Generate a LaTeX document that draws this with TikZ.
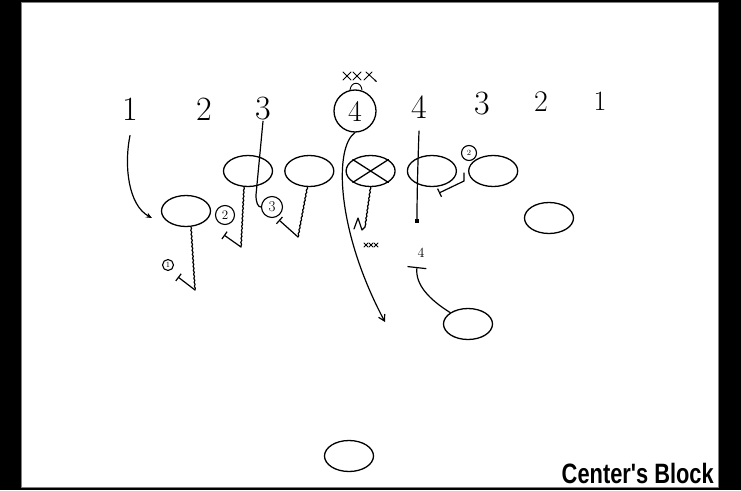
\documentclass[tikz,border=0pt]{standalone}
\usepackage{fontspec}
\usetikzlibrary{shapes.geometric, arrows.meta, positioning, decorations.pathmorphing}
\newfontfamily\captfont{Liberation Sans}
\tikzset{
	player/.style ={ellipse, draw=black, line width=1.3pt, minimum width=49pt, minimum height=31pt, inner sep=0pt},
	holenum/.style={font=\fontsize{34}{34}\selectfont, inner sep=1pt},
	tag/.style    ={circle, draw=black, line width=1.1pt, inner sep=0pt},
	route/.style  ={line width=1.2pt, -{Stealth[length=6pt, width=5pt]}},
	% blocking assignments
	stem/.style   ={line width=1.2pt, decorate, decoration={snake, amplitude=0.45pt, segment length=4pt}},
	blk/.style    ={line width=1.2pt, -{Bar[width=9pt]}},
	scrib/.style  ={line width=0.9pt},
}
\begin{document}
\begin{tikzpicture}[x=1pt, y=-1pt, node distance=11pt, line cap=round, line join=round]
	\fill[black] (0,0) rectangle (741,490);
	\draw[gray, fill=white, line width=1pt] (21,2) rectangle (718,487);
	% hole numbers
	\node[holenum] (n1) at (130,109) {1};
	\node[holenum] (n2) at (204,109) {2};
	\node[holenum] (n3) at (263,108.5) {3};
	\node[circle, draw=black, line width=1.3pt, minimum size=42pt, inner sep=0pt, font=\fontsize{30}{30}\selectfont] (d4) at (355,111) {4};
	\node[holenum] (n4) at (419,107.5) {4};
	\node[holenum] (m3) at (482,103.5) {3};
	\node[holenum, font=\fontsize{30}{30}\selectfont] (m2) at (541,102) {2};
	\node[holenum, font=\fontsize{28}{28}\selectfont] (m1) at (600,101) {1};
	% line and backs
	\node[player] (lt) at (248,171) {};
	\node[player, right=of lt] (lg) {};
	\node[player, right=of lg] (cc) {};
	\node[player, right=of cc] (rg) {};
	\node[player, right=of rg] (rt) {};
	\node[player] (lw) at (186,211) {};
	\node[player] (rw) at (549,218) {};
	\node[player] (db) at (468,324) {};
	\node[player] (qb) at (349,456) {};
	\draw[line width=1.3pt] (cc.north west) -- (cc.south east) (cc.north east) -- (cc.south west);
	% assignment tags
	\node[tag, minimum size=11pt, font=\fontsize{8}{8}\selectfont] (t1) at (168,265) {1};
	\node[tag, minimum size=19pt, font=\fontsize{13}{13}\selectfont] (t2) at (225,215) {2};
	\node[tag, minimum size=21pt, font=\fontsize{15}{15}\selectfont] (t3) at (272,207) {3};
	\node[tag, minimum size=15pt, font=\fontsize{8}{8}\selectfont] (t4) at (469,153) {2};
	\node[font=\fontsize{14}{14}\selectfont] (s4l) at (421,253) {4};
	\coordinate (k1) at (195,290); \coordinate (e1) at (178,277);
	\coordinate (k2) at (241,247); \coordinate (e2) at (224,235);
	\coordinate (k3) at (298,237); \coordinate (e3) at (279,220);
	\coordinate (k4) at (365,227);
	\coordinate (a1) at (152,218); \coordinate (a4) at (385,322);
	\coordinate (s4) at (417,223); \coordinate (b4) at (417,267); \coordinate (b5) at (439,193);
	\draw[stem] ([xshift=5pt]lw.south) -- (k1); \draw[blk] (k1) -- (e1);
	\draw[stem] ([xshift=-4pt]lt.south) -- (k2); \draw[blk] (k2) -- (e2);
	\draw[stem] ([xshift=-2pt]lg.south) -- (k3); \draw[blk] (k3) -- (e3);
	\draw[stem] (cc.south) -- (k4); \draw[line width=1.2pt] (k4) -- (362,230) -- (358,218) -- (354,229);
	\foreach \x in {366,371,376} \draw[scrib] (\x-2,243) -- (\x+2,247) (\x-2,247) -- (\x+2,243);
	\draw[blk] ([shift={(-4pt,-2pt)}]rt.west) -- ++(0,8) -- (b5);
	\draw[route] ([yshift=-14pt]n1.south) .. controls (124,165) and (128,205) .. (a1);
	\draw[line width=1.2pt] (n3.south) -- (256,195) .. controls (256,203) and (258,207) .. (t3.west);
	\draw[line width=1.2pt, -{Straight Barb[length=6pt, width=7pt]}] (d4.south) .. controls (334,147) and (336,230) .. (a4);
	\draw[line width=1.2pt, -{Square[length=4pt, width=4pt]}] ([yshift=-11pt]n4.south) .. controls (418,160) and (417,190) .. (s4);
	\draw[line width=1.2pt, -{Bar[width=19pt]}] (db.north west) .. controls (430,300) and (415,285) .. (b4);
	% rush marks over the linebacker
	\foreach \x in {347,357} \draw[scrib] (\x-4,72) -- (\x+4,80) (\x-4,80) -- (\x+4,72);
	\draw[scrib] (364,80) -- (372,72); \draw[scrib, -{Stealth[length=3pt]}] (366,72) -- (377,82);
	\draw[scrib] (350,90) .. controls (351,81) and (361,81) .. (362,90);
	\node[anchor=base east, inner sep=0pt, font=\captfont\bfseries\fontsize{28}{28}\selectfont] (cap) at (714,483) {\scalebox{0.78}[1]{Center's Block}};
\end{tikzpicture}
\end{document}
